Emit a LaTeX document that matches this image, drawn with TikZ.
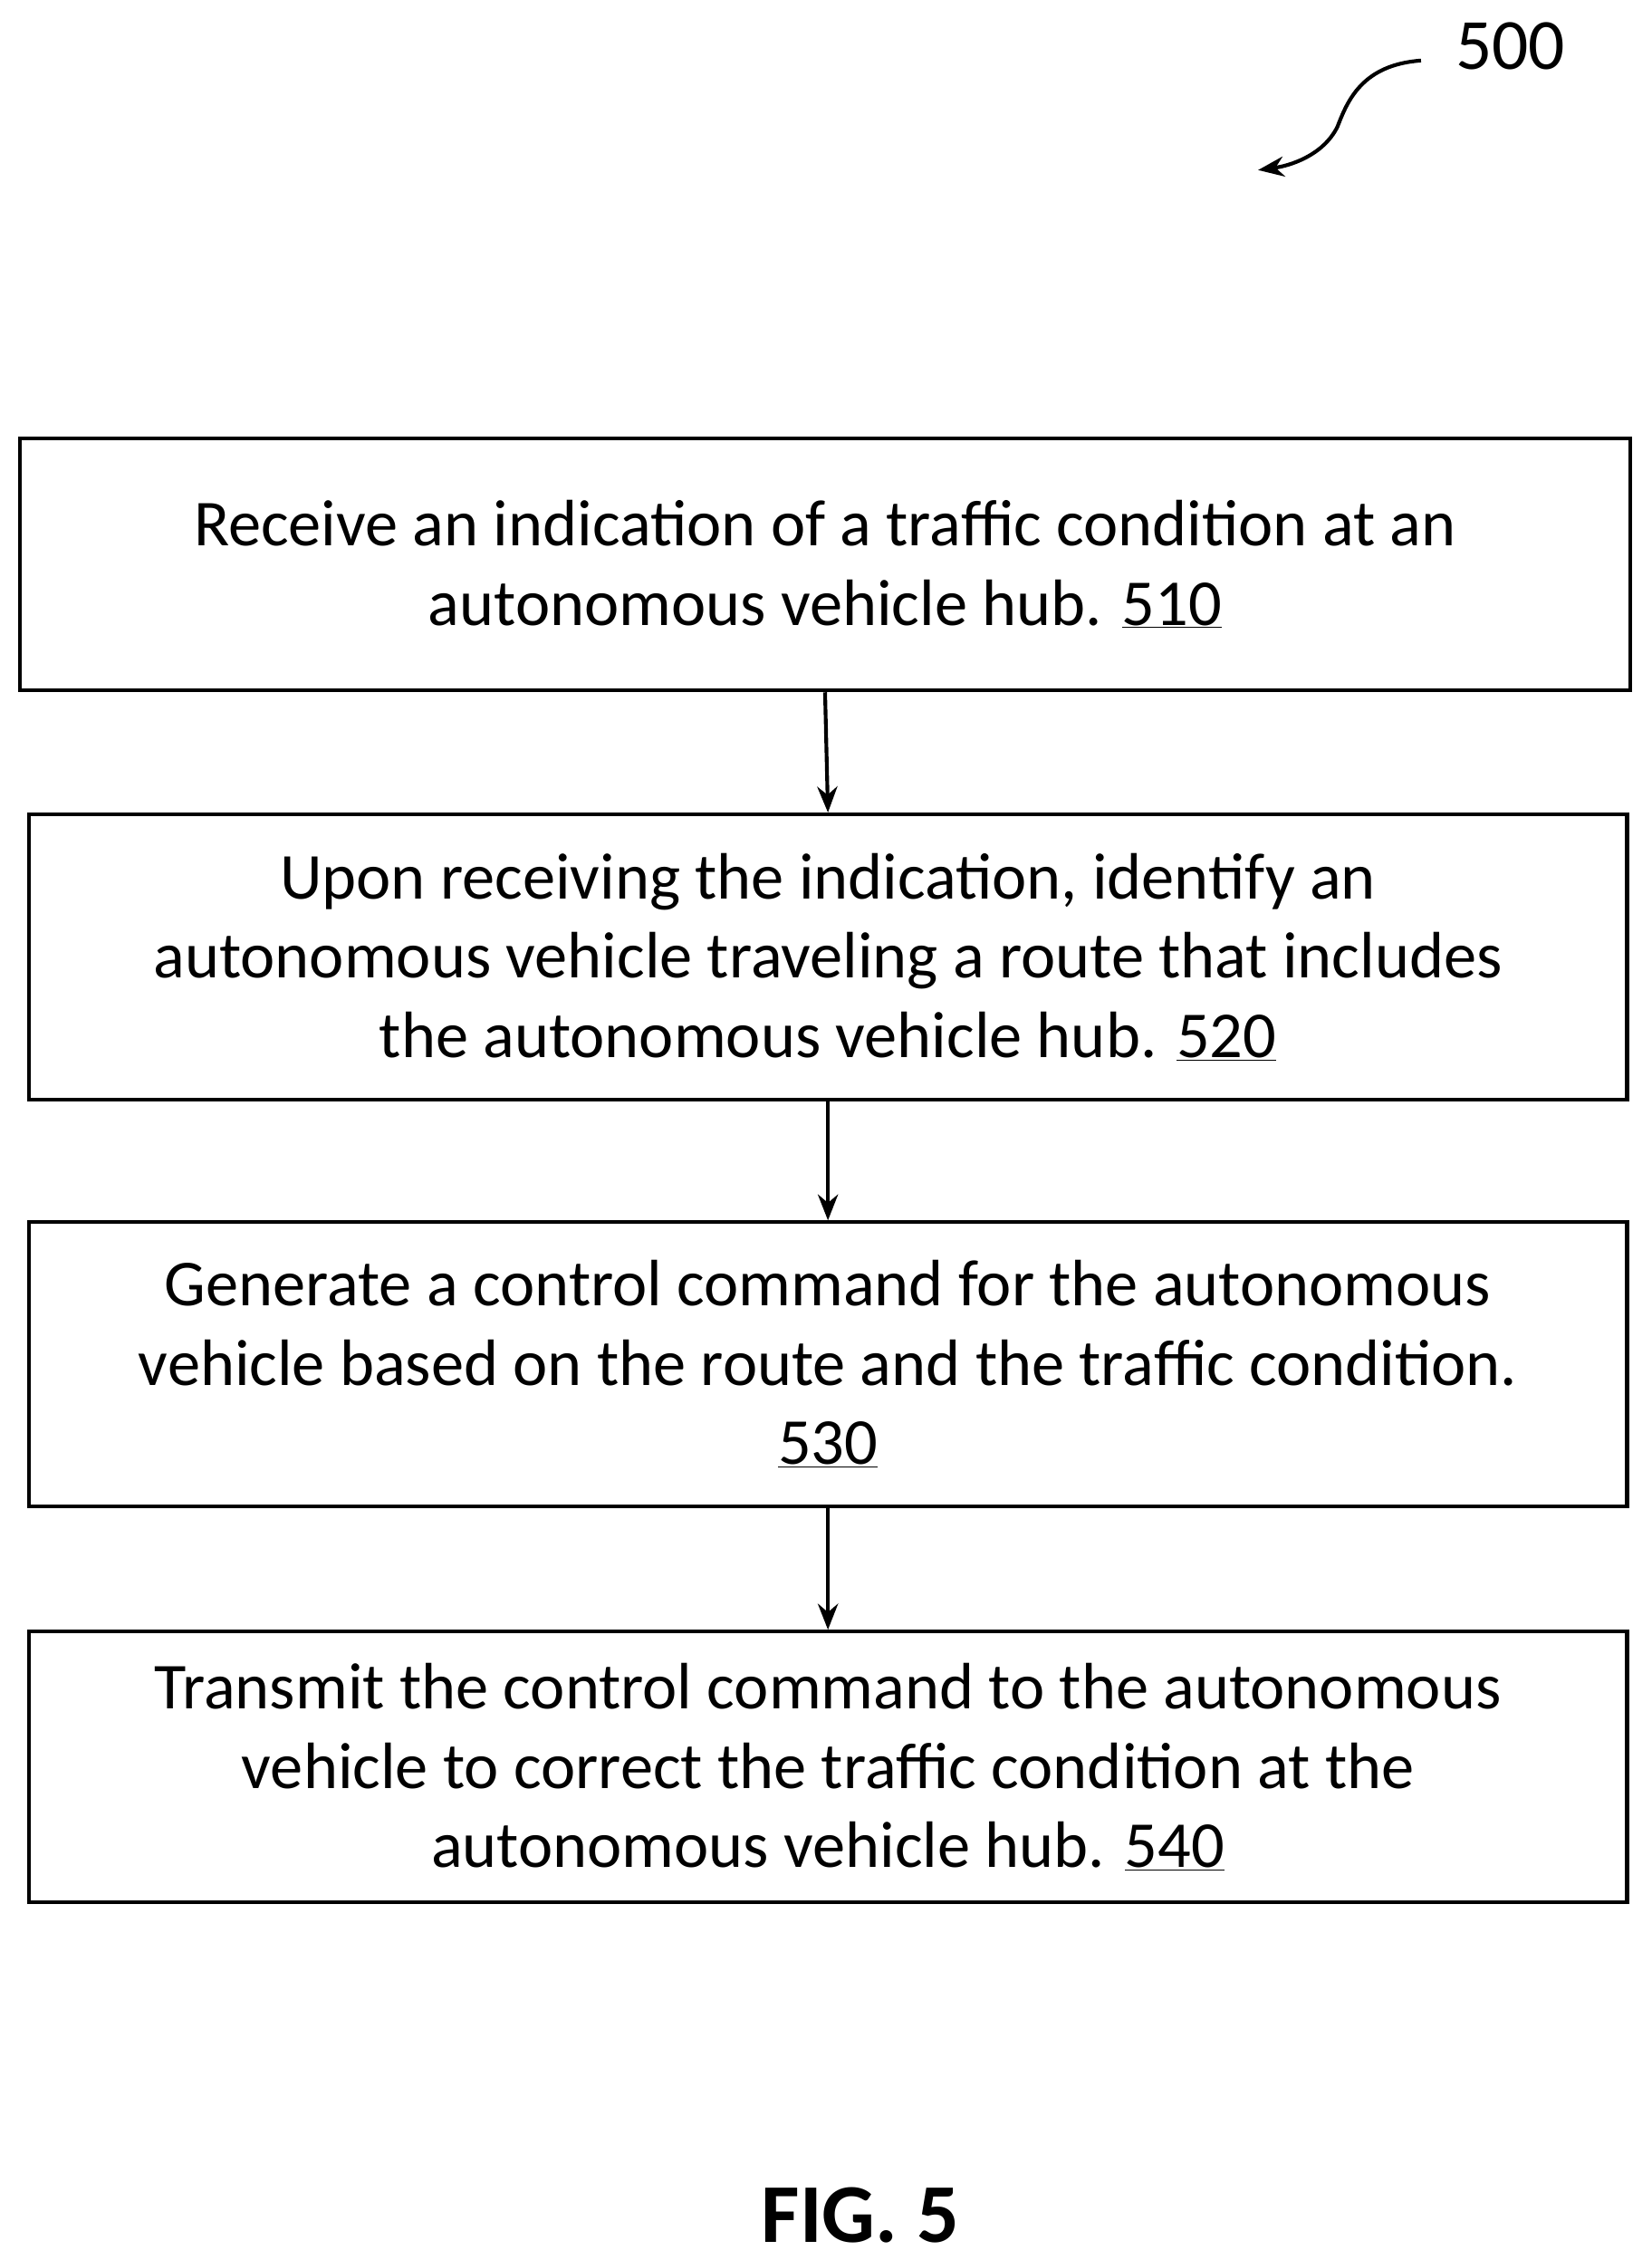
\documentclass[tikz,border=0pt]{standalone}
\usepackage{fontspec}
\setmainfont{Carlito}
\usetikzlibrary{arrows.meta}
\begin{document}
\begin{tikzpicture}[x=1pt,y=-1pt,
  box/.style={draw,line width=2.6pt,inner sep=0pt,align=center,font=\fontsize{45.5}{55}\selectfont},
  conn/.style={line width=2.6pt,-{Stealth[length=18pt,width=14pt]}}]
\useasboundingbox (0,0) rectangle (1146,1568);
\node[box,minimum width=1117pt,minimum height=175pt] (b1) at (572.5,391.5) {Receive an indication of a traffic condition at an\\autonomous vehicle hub. \underline{510}};
\node[box,minimum width=1109pt,minimum height=198pt] (b2) at (574.5,664) {Upon receiving the indication, identify an\\autonomous vehicle traveling a route that includes\\the autonomous vehicle hub. \underline{520}};
\node[box,minimum width=1109pt,minimum height=197pt] (b3) at (574.5,946.5) {Generate a control command for the autonomous\\vehicle based on the route and the traffic condition.\\\underline{530}};
\node[box,minimum width=1109pt,minimum height=188pt] (b4) at (574.5,1226) {Transmit the control command to the autonomous\\vehicle to correct the traffic condition at the\\autonomous vehicle hub. \underline{540}};
\draw[conn] (b1.south) -- (b2.north);
\draw[conn] (b2.south) -- (b3.north);
\draw[conn] (b3.south) -- (b4.north);
\node[font=\fontsize{50}{55}\selectfont] (lbl) at (1048,32) {500};
\coordinate (start) at (986,42);
\coordinate (tip) at (873,118);
\draw[line width=2.6pt,-{Stealth[length=18pt,width=14pt]}] (start) .. controls (945,45) and (935,70) .. (928,88) .. controls (918,108) and (895,115) .. (tip);
\node[font=\bfseries\fontsize{58}{60}\selectfont] (fig) at (597,1537) {FIG. 5};
\end{tikzpicture}
\end{document}
